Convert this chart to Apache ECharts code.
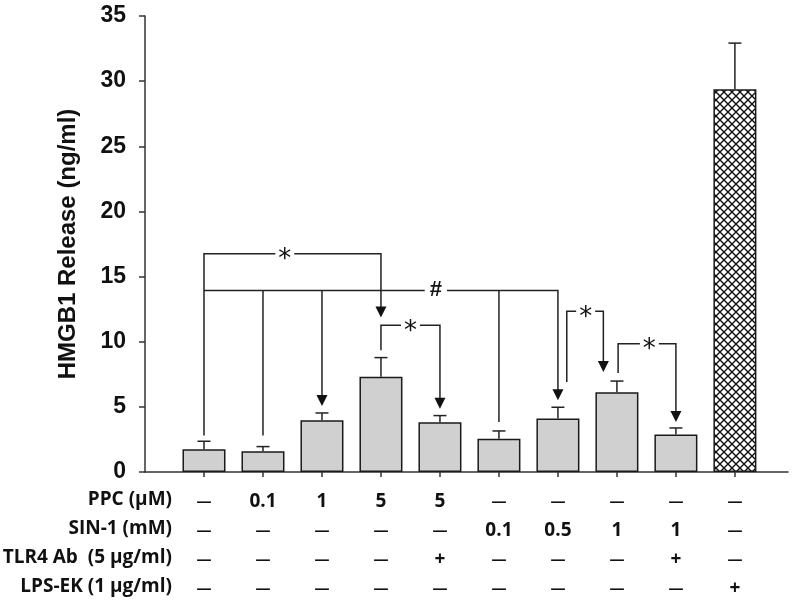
<!DOCTYPE html>
<html><head><meta charset="utf-8">
<script src="https://cdn.jsdelivr.net/npm/echarts@6/dist/echarts.min.js"></script>
<style>html,body{margin:0;padding:0;background:#fff}#c{width:800px;height:602px}</style>
</head><body><div id="c"></div>
<script>
// ---- data ----
const categories = [1, 2, 3, 4, 5, 6, 7, 8, 9, 10];
const means    = [1.74, 1.59, 3.97, 7.32, 3.81, 2.56, 4.10, 6.12, 2.87, 29.37];
const errUpper = [2.36, 1.95, 4.53, 8.78, 4.33, 3.15, 4.97, 6.98, 3.38, 32.92];
const rowTitles = ['PPC (µM)', 'SIN-1 (mM)', 'TLR4 Ab  (5 µg/ml)', 'LPS-EK (1 µg/ml)'];
const rowPPC = ['—', '0.1', '1', '5', '5', '—', '—', '—', '—', '—'];
const rowSIN = ['—', '—', '—', '—', '—', '0.1', '0.5', '1', '1', '—'];
const rowTLR = ['—', '—', '—', '—', '+', '—', '—', '—', '+', '—'];
const rowLPS = ['—', '—', '—', '—', '—', '—', '—', '—', '—', '+'];
// significance brackets (x = group position, y = ng/ml)
const annotPaths = [
  [[1, 2.8], [1, 16.76], [4, 16.76], [4, 11.85]],
  [[1, 13.94], [7, 13.94], [7, 5.5]],
  [[2, 13.94], [2, 2.8]],
  [[3, 13.94], [3, 5.07]],
  [[6, 13.94], [6, 3.84]],
  [[4, 9.34], [4, 11.26], [5, 11.26], [5, 4.86]],
  [[7.15, 6.91], [7.15, 12.33], [7.77, 12.33], [7.77, 7.68]],
  [[8.02, 7.6], [8.02, 9.85], [9, 9.85], [9, 3.84]]
];
const annotArrow = [true, true, false, true, false, true, true, true];
const markText = ['*', '#', '*', '*', '*'];
const markX = [2.37, 4.93, 4.5, 7.47, 8.55];
const markY = [16.76, 13.94, 11.26, 12.33, 9.85];

// ---- chart ----
function hatchCanvas() {
  const s = 8, c = document.createElement('canvas');
  c.width = s; c.height = s;
  const g = c.getContext('2d');
  g.fillStyle = '#fff'; g.fillRect(0, 0, s, s);
  g.strokeStyle = '#111'; g.lineWidth = 1.4;
  g.beginPath();
  g.moveTo(-1, -1); g.lineTo(s + 1, s + 1);
  g.moveTo(s + 1, -1); g.lineTo(-1, s + 1);
  g.stroke();
  return c;
}
const LINE = '#222';
const TABLE_FONT = 19;
const TABLE_FAMILY = 'Open Sans';
const chart = echarts.init(document.getElementById('c'), null, {renderer: 'canvas'});
const barData = categories.map((c, i) => {
  const d = {value: [c, means[i]]};
  if (i === categories.length - 1) d.itemStyle = {color: {image: hatchCanvas(), repeat: 'repeat'}};
  return d;
});
const tableRows = [rowPPC, rowSIN, rowTLR, rowLPS];
chart.setOption({
  animation: false,
  backgroundColor: '#fff',
  grid: {left: 145, right: 12, top: 16, bottom: 130},
  xAxis: {
    type: 'value', min: 0, max: 10.9, interval: 1,
    splitLine: {show: false},
    axisLine: {lineStyle: {color: '#333', width: 1.5}},
    axisTick: {show: true, customValues: categories, length: 5, lineStyle: {color: '#333', width: 1.5}},
    axisLabel: {
      customValues: categories, margin: 15,
      formatter: v => {
        const i = categories.indexOf(v);
        return tableRows.map(r => (r[i] === '—' ? '{d|' : '{a|') + r[i] + '}').join('\n');
      },
      rich: {
        a: {fontFamily: TABLE_FAMILY, fontWeight: 'bold', fontSize: TABLE_FONT, lineHeight: 29, color: '#111'},
        d: {fontFamily: TABLE_FAMILY, fontWeight: 'bold', fontSize: 15, lineHeight: 29, color: '#111'}
      }
    }
  },
  yAxis: {
    type: 'value', min: 0, max: 35, interval: 5,
    splitLine: {show: false},
    axisLine: {show: true, lineStyle: {color: '#333', width: 1.5}},
    axisTick: {show: true, length: 6, lineStyle: {color: '#333', width: 1.5}},
    axisLabel: {fontFamily: 'Liberation Sans', fontWeight: 'bold', fontSize: 23, color: '#111', margin: 19},
    name: 'HMGB1 Release (ng/ml)', nameLocation: 'middle', nameGap: 65,
    nameTextStyle: {fontFamily: 'Liberation Sans', fontWeight: 'bold', fontSize: 24, color: '#111'}
  },
  graphic: rowTitles.map((t, k) => ({
    type: 'text', x: 172, y: 500 + k * 29,
    style: {text: t, align: 'right', verticalAlign: 'middle', fill: '#111',
      font: 'bold ' + TABLE_FONT + 'px "' + TABLE_FAMILY + '"'}
  })),
  series: [
    {
      type: 'bar', data: barData, barWidth: 43, z: 2,
      itemStyle: {color: '#d0d0d0', borderColor: '#1a1a1a', borderWidth: 1.5}
    },
    {
      type: 'custom', z: 3, clip: false,
      data: categories.map((c, i) => [c, means[i], errUpper[i]]),
      encode: {x: 0, y: [1, 2]},
      renderItem: (p, api) => {
        const x = api.value(0);
        const a = api.coord([x, api.value(1)]);
        const b = api.coord([x, api.value(2)]);
        return {type: 'group', children: [
          {type: 'line', shape: {x1: a[0], y1: a[1], x2: b[0], y2: b[1]}, style: {stroke: LINE, lineWidth: 1.5}},
          {type: 'line', shape: {x1: b[0] - 6.5, y1: b[1], x2: b[0] + 6.5, y2: b[1]}, style: {stroke: LINE, lineWidth: 1.5}}
        ]};
      }
    },
    {
      type: 'custom', z: 4, clip: false,
      data: annotPaths.map(p => [p[0][0], p[0][1]]),
      encode: {x: 0, y: 1},
      renderItem: (p, api) => {
        const path = annotPaths[p.dataIndex];
        const pts = path.map(q => api.coord(q));
        const children = [];
        if (annotArrow[p.dataIndex]) {
          const tip = pts[pts.length - 1];
          const line = pts.slice(0, -1).concat([[tip[0], tip[1] - 9]]);
          children.push({type: 'polyline', shape: {points: line}, style: {stroke: LINE, lineWidth: 1.5, fill: null}});
          children.push({type: 'polygon', shape: {points: [[tip[0], tip[1]], [tip[0] - 5.5, tip[1] - 11], [tip[0] + 5.5, tip[1] - 11]]}, style: {fill: '#111'}});
        } else {
          children.push({type: 'polyline', shape: {points: pts}, style: {stroke: LINE, lineWidth: 1.5, fill: null}});
        }
        return {type: 'group', children};
      }
    },
    {
      type: 'custom', z: 5, clip: false,
      data: markX.map((x, i) => [x, markY[i]]),
      encode: {x: 0, y: 1},
      renderItem: (p, api) => {
        const c = api.coord([api.value(0), api.value(1)]);
        const t = markText[p.dataIndex];
        const star = t === '*';
        return {type: 'text', x: c[0], y: c[1] + (star ? 7 : 0), style: {
          text: t, align: 'center', verticalAlign: 'middle', fill: '#111',
          font: star ? '26px "DejaVu Sans"' : 'bold 22px "Liberation Sans"',
          backgroundColor: '#fff', padding: star ? [0, 3] : [0, 5]
        }};
      }
    }
  ]
});
</script>
</body></html>
